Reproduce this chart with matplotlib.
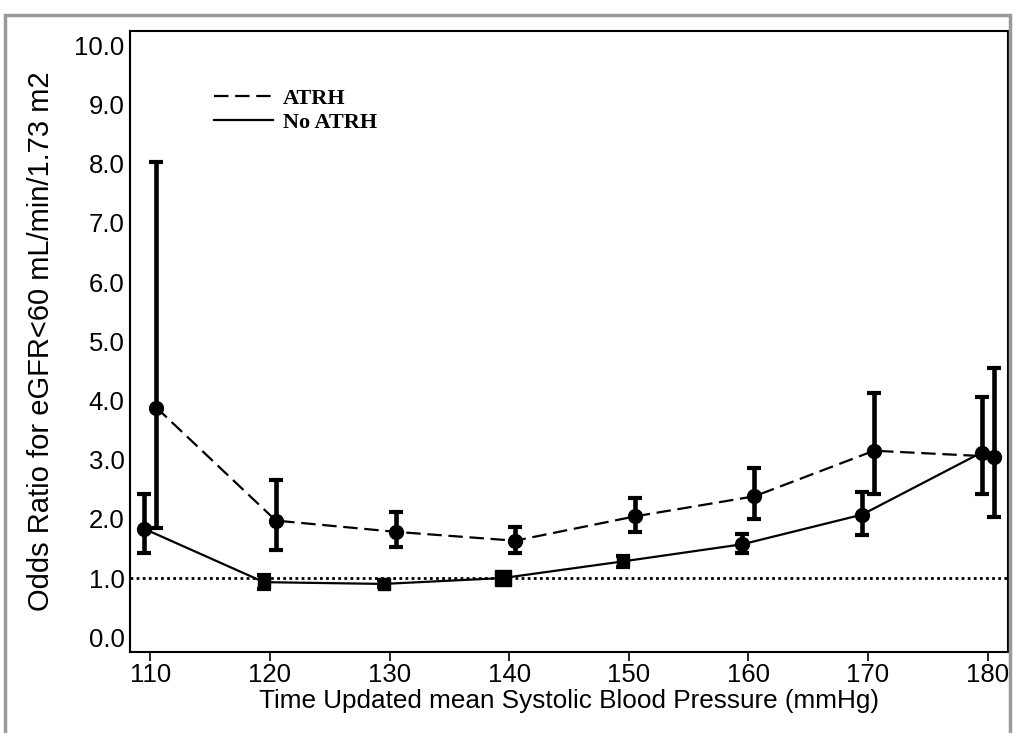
import matplotlib.pyplot as plt
from matplotlib.lines import Line2D
from matplotlib.patches import Rectangle

plt.rcParams['font.family'] = ['Liberation Sans', 'DejaVu Sans']

# Blodtrykk (mmHg) og odds ratio med konfidensintervall
sbp = [110, 120, 130, 140, 150, 160, 170, 180]

atrh_or = [3.88, 1.97, 1.78, 1.63, 2.04, 2.38, 3.15, 3.05]
atrh_lo = [1.85, 1.47, 1.52, 1.43, 1.77, 2.00, 2.42, 2.03]
atrh_hi = [8.03, 2.65, 2.12, 1.87, 2.35, 2.85, 4.13, 4.55]

no_or = [1.83, 0.93, 0.90, 1.00, 1.28, 1.57, 2.07, 3.12]
no_lo = [1.42, 0.82, 0.84, 1.00, 1.18, 1.42, 1.73, 2.42]
no_hi = [2.42, 1.05, 0.96, 1.00, 1.38, 1.74, 2.45, 4.05]

fig = plt.figure(figsize=(10.13, 7.33), dpi=100)
fig.patches.append(Rectangle((0.005, -0.01), 0.992, 0.99, transform=fig.transFigure,
                             fill=False, edgecolor='#999999', lw=2.5))
ax = fig.add_axes([0.1283, 0.1105, 0.8667, 0.8472])

x_a = [x + 0.5 for x in sbp]
x_n = [x - 0.5 for x in sbp]

ax.axhline(1.0, color='black', ls=(0, (1, 1.2)), lw=2, zorder=1)

dash = (0, (6.5, 3))
ax.plot(x_a, atrh_or, color='black', ls=dash, lw=1.6, zorder=2)
ax.plot(x_n, no_or, color='black', ls='-', lw=1.6, zorder=2)

ax.errorbar(x_a, atrh_or, yerr=[[o - l for o, l in zip(atrh_or, atrh_lo)],
                                [h - o for o, h in zip(atrh_or, atrh_hi)]],
            fmt='o', color='black', ms=10, elinewidth=3.3, capsize=4.8, capthick=3, zorder=3)

for x, o, l, h in zip(x_n, no_or, no_lo, no_hi):
    if 120 <= x + 0.5 <= 150:
        m = 's'
        ms = 12 if x + 0.5 == 140 else 9
    else:
        m = 'o'
        ms = 10
    if h > l:
        ax.errorbar([x], [o], yerr=[[o - l], [h - o]], fmt=m, color='black', ms=ms,
                    elinewidth=3.3, capsize=4.8, capthick=3, zorder=3)
    else:
        ax.plot([x], [o], marker=m, color='black', ms=ms, zorder=3)

ax.set_xlim(108.3, 181.7)
ax.set_ylim(-0.25, 10.24)
ax.set_xticks(sbp)
ax.set_yticks([i * 1.0 for i in range(11)])
ax.set_yticklabels([f'{i:.1f}' for i in range(11)])
ax.tick_params(axis='both', labelsize=18.5, length=6.5, width=1.2)
ax.tick_params(axis='x', pad=1.5)
ax.tick_params(axis='y', length=0, pad=4)
for s in ax.spines.values():
    s.set_linewidth(1.5)

ax.set_xlabel('Time Updated mean Systolic Blood Pressure (mmHg)', fontsize=18.8, labelpad=1)
ax.set_ylabel('Odds Ratio for eGFR<60 mL/min/1.73 m2', fontsize=21, labelpad=14)

handles = [Line2D([], [], color='black', ls=(0, (6.5, 3)), lw=1.6),
           Line2D([], [], color='black', ls='-', lw=1.6)]
ax.legend(handles, ['ATRH', 'No ATRH'], loc='upper left', bbox_to_anchor=(0.083, 0.926),
          frameon=False, borderpad=0, handlelength=2.65, handletextpad=0.45,
          labelspacing=0.15,
          prop={'family': 'Liberation Serif', 'weight': 'bold', 'size': 16})

fig.savefig('out.png', dpi=100)
